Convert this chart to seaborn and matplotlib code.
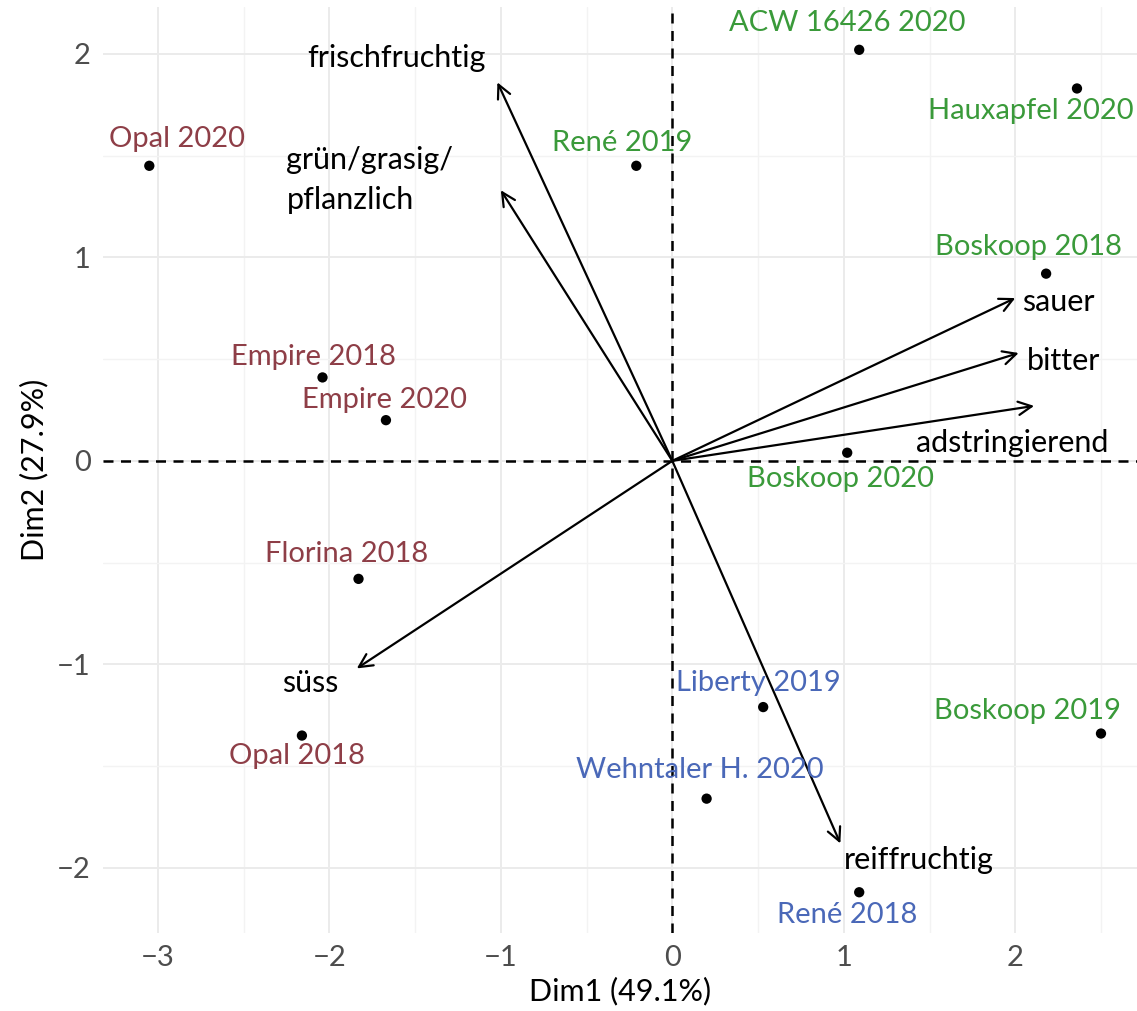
import matplotlib
matplotlib.use("Agg")
import matplotlib.pyplot as plt
import seaborn as sns
import pandas as pd
import numpy as np

# Individuals (apple samples) on the first two principal components
samples = ["Opal 2020", "Empire 2018", "Empire 2020", "Florina 2018", "Opal 2018",
           "René 2019", "Liberty 2019", "Wehntaler H. 2020", "ACW 16426 2020",
           "Hauxapfel 2020", "Boskoop 2018", "Boskoop 2020", "Boskoop 2019", "René 2018"]
dim1 = [-3.05, -2.04, -1.67, -1.83, -2.16, -0.21, 0.53, 0.20, 1.09, 2.36, 2.18, 1.02, 2.50, 1.09]
dim2 = [1.45, 0.41, 0.20, -0.58, -1.35, 1.45, -1.21, -1.66, 2.02, 1.83, 0.92, 0.04, -1.34, -2.12]
group = ["rot", "rot", "rot", "rot", "rot", "grün", "blau", "blau", "grün",
         "grün", "grün", "grün", "grün", "blau"]
# repelled label positions
label_x = [-2.89, -2.09, -1.68, -1.90, -2.19, -0.29, 0.50, 0.16, 1.02, 2.09, 2.08, 0.98, 2.07, 1.02]
label_y = [1.58, 0.51, 0.30, -0.46, -1.45, 1.56, -1.09, -1.52, 2.15, 1.72, 1.05, -0.09, -1.23, -2.23]

# Sensory attributes (variable loadings, scaled)
attributes = ["frischfruchtig", "grün/grasig/\npflanzlich", "sauer", "bitter",
              "adstringierend", "süss", "reiffruchtig"]
load1 = [-1.02, -1.00, 2.00, 2.02, 2.11, -1.84, 0.98]
load2 = [1.86, 1.33, 0.80, 0.53, 0.27, -1.02, -1.88]
attr_x = [-1.61, -2.25, 2.04, 2.07, 1.98, -2.11, 1.44]
attr_y = [1.98, 1.38, 0.78, 0.49, 0.09, -1.09, -1.96]
attr_ha = ["center", "left", "left", "left", "center", "center", "center"]

palette = {"rot": "#8E3E47", "grün": "#3A9A3A", "blau": "#4A68B8"}

df = pd.DataFrame({"sample": samples, "Dim1": dim1, "Dim2": dim2, "group": group,
                   "lx": label_x, "ly": label_y})

sns.set_theme(style="whitegrid")
plt.rcParams["font.family"] = ["Lato", "DejaVu Sans"]

fig = plt.figure(figsize=(11.37, 10.11), dpi=100)
ax = fig.add_axes([0.0906, 0.0772, 0.9094, 0.9158])

ax.set_xlim(-3.32, 2.71)
ax.set_ylim(-2.32, 2.23)

ax.axhline(0, color="black", linestyle=(0, (4, 3)), linewidth=1.8, zorder=1)
ax.axvline(0, color="black", linestyle=(0, (4, 3)), linewidth=1.8, zorder=1)

sns.scatterplot(data=df, x="Dim1", y="Dim2", color="black", s=55, edgecolor="none",
                ax=ax, zorder=3, legend=False)

for _, r in df.iterrows():
    ax.text(r["lx"], r["ly"], r["sample"], color=palette[r["group"]], fontsize=21,
            ha="center", va="center", zorder=4)

for name, x1, y1, tx, ty, ha in zip(attributes, load1, load2, attr_x, attr_y, attr_ha):
    ax.annotate("", xy=(x1, y1), xytext=(0, 0),
                arrowprops=dict(arrowstyle="->,head_length=0.8,head_width=0.4",
                                color="black", lw=1.6, shrinkA=0, shrinkB=0),
                zorder=2)
    ax.text(tx, ty, name, color="black", fontsize=22, ha=ha, va="center",
            linespacing=1.5, zorder=4)

ax.set_xticks([-3, -2, -1, 0, 1, 2])
ax.set_yticks([-2, -1, 0, 1, 2])
ax.set_xticklabels(["\u22123", "\u22122", "\u22121", "0", "1", "2"])
ax.set_yticklabels(["\u22122", "\u22121", "0", "1", "2"])
ax.set_xticks([-2.5, -1.5, -0.5, 0.5, 1.5, 2.5], minor=True)
ax.set_yticks([-1.5, -0.5, 0.5, 1.5], minor=True)
ax.grid(True, which="major", color="#EBEBEB", linewidth=1.4)
ax.grid(True, which="minor", color="#F3F3F3", linewidth=1.0)
ax.tick_params(axis="both", which="major", labelsize=21, labelcolor="#4D4D4D",
               length=5, width=1.5, color="#333333", pad=4)
ax.tick_params(axis="both", which="minor", length=0)
for s in ax.spines.values():
    s.set_visible(False)

ax.set_xlabel("Dim1 (49.1%)", fontsize=22, color="black", labelpad=4)
ax.set_ylabel("Dim2 (27.9%)", fontsize=22, color="black", labelpad=6)

fig.savefig("out.png", dpi=100, facecolor="white")
